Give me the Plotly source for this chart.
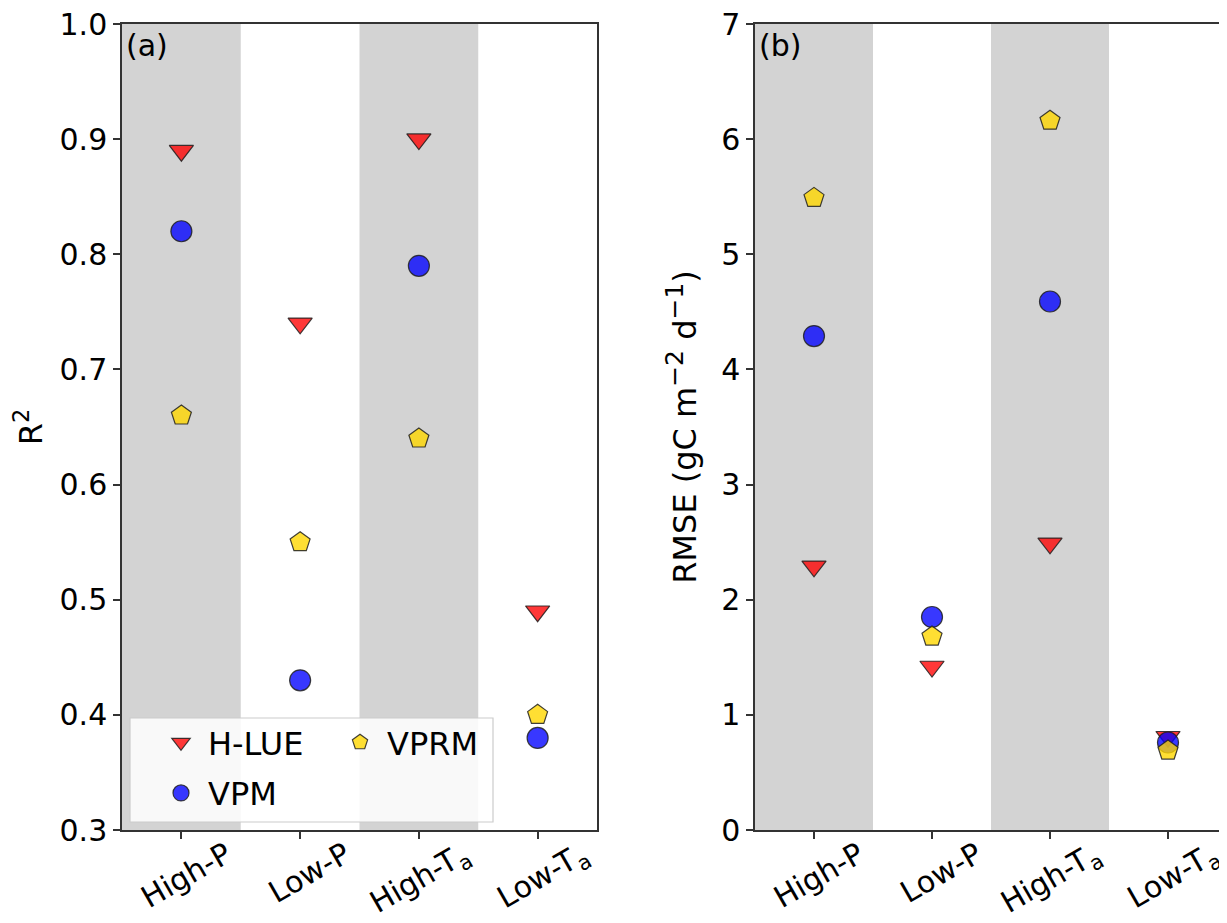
import plotly.graph_objects as go

categories = ["High-P", "Low-P", "High-T<sub>a</sub>", "Low-T<sub>a</sub>"]
shaded = [0, 2]

r2_hlue = [0.89, 0.74, 0.90, 0.49]
r2_vpm = [0.82, 0.43, 0.79, 0.38]
r2_vprm = [0.66, 0.55, 0.64, 0.40]

rmse_hlue = [2.29, 1.42, 2.49, 0.81]
rmse_vpm = [4.29, 1.85, 4.59, 0.76]
rmse_vprm = [5.49, 1.68, 6.16, 0.69]

series = [
    ("H-LUE", "triangle-down", "rgba(255,0,0,0.78)", r2_hlue, rmse_hlue, "legend"),
    ("VPM", "circle", "rgba(0,0,255,0.78)", r2_vpm, rmse_vpm, "legend"),
    ("VPRM", "pentagon", "rgba(255,215,0,0.8)", r2_vprm, rmse_vprm, "legend2"),
]

OFF = 8  # page body margin
W, H = 1227 - OFF, 923 - OFF
ML, MR, MT, MB = 122 - OFF, 0, 24 - OFF, 923 - 830
PW = W - ML - MR
PH = H - MT - MB
FONT = "DejaVu Sans"
FS = 30
LFS = 32
xs = list(range(len(categories)))


def px_x(p):  # screen px -> paper
    return (p - OFF - ML) / PW


def px_y(p):
    return (OFF + H - MB - p) / PH


fig = go.Figure()
for name, sym, col, v1, v2, leg in series:
    mk = dict(symbol=sym, size=21, color=col, line=dict(color="rgba(30,30,30,0.85)", width=1.2))
    fig.add_trace(go.Scatter(x=xs, y=v1, mode="markers", name=name, marker=mk,
                             xaxis="x", yaxis="y", legend=leg, legendgroup=name))
    fig.add_trace(go.Scatter(x=xs, y=v2, mode="markers", name=name, marker=mk,
                             xaxis="x2", yaxis="y2", showlegend=False, legendgroup=name))

shapes = []
for ax in ["x", "x2"]:
    yref = "y domain" if ax == "x" else "y2 domain"
    for i in shaded:
        shapes.append(dict(type="rect", xref=ax, yref=yref, x0=i - 0.5, x1=i + 0.5, y0=0, y1=1,
                           fillcolor="#d3d3d3", line=dict(width=0), layer="below"))
# legend frame
shapes.append(dict(type="rect", xref="paper", yref="paper",
                   x0=px_x(130), x1=px_x(493), y0=px_y(822), y1=px_y(718),
                   fillcolor="rgba(255,255,255,0.85)", line=dict(color="#cccccc", width=1.2),
                   layer="above"))

axis_common = dict(
    showline=True, linecolor="#333", linewidth=1.5, showgrid=False, zeroline=False,
    ticks="outside", ticklen=7, tickwidth=1.5, tickcolor="#333", automargin=False,
    ticklabeloverflow="allow",
    tickfont=dict(family=FONT, size=FS, color="black"),
)
xtick_extra = dict(tickangle=-30, ticklabelshift=45, ticklabelstandoff=-13)
r2_ticks = [0.3, 0.4, 0.5, 0.6, 0.7, 0.8, 0.9, 1.0]
rmse_ticks = [0, 1, 2, 3, 4, 5, 6, 7]

fig.update_layout(
    width=W, height=H,
    margin=dict(l=ML, r=MR, t=MT, b=MB),
    plot_bgcolor="white", paper_bgcolor="white",
    font=dict(family=FONT, color="black"),
    shapes=shapes,
    xaxis=dict(domain=[0, 475 / PW], range=[-0.5, 3.5], tickvals=xs, ticktext=categories,
               mirror=True, **xtick_extra, **axis_common),
    yaxis=dict(domain=[0, 1], range=[0.3, 1.0], tickvals=r2_ticks,
               ticktext=[f"{v:.1f}" for v in r2_ticks], mirror=True,
               title=dict(text="R<sup>2</sup>", font=dict(family=FONT, size=32)),
               **axis_common),
    xaxis2=dict(domain=[(755 - OFF - ML) / PW, 1.0], range=[-0.5, 3.5], tickvals=xs,
                ticktext=categories, anchor="y2", mirror=True, **xtick_extra, **axis_common),
    yaxis2=dict(domain=[0, 1], range=[0, 7], tickvals=rmse_ticks, anchor="x2", mirror=False,
                title=dict(text="RMSE (gC m<sup><span style='font-size:25px'>\u22122</span></sup>"
                                " d<sup><span style='font-size:25px'>\u22121</span></sup>)",
                           font=dict(family=FONT, size=32)),
                **axis_common),
    legend=dict(orientation="v", x=px_x(154), y=px_y(715), xanchor="left", yanchor="top",
                bgcolor="rgba(0,0,0,0)", borderwidth=0, itemwidth=44, tracegroupgap=6,
                font=dict(family=FONT, size=LFS)),
    legend2=dict(orientation="v", x=px_x(333), y=px_y(715), xanchor="left", yanchor="top",
                 bgcolor="rgba(0,0,0,0)", borderwidth=0, itemwidth=44,
                 font=dict(family=FONT, size=LFS)),
    annotations=[
        dict(text="(a)", xref="x domain", yref="y domain", x=0.0, y=1.0, xshift=2, yshift=-2,
             xanchor="left", yanchor="top", showarrow=False, font=dict(family=FONT, size=FS)),
        dict(text="(b)", xref="x2 domain", yref="y2 domain", x=0.0, y=1.0, xshift=2, yshift=-2,
             xanchor="left", yanchor="top", showarrow=False, font=dict(family=FONT, size=FS)),
    ],
)

fig.write_html("out.html")
